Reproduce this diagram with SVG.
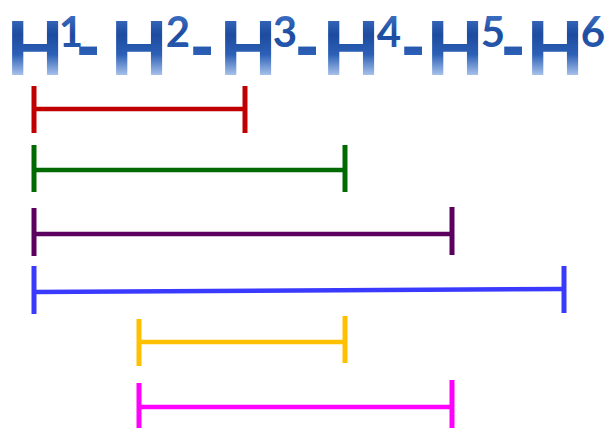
<svg xmlns="http://www.w3.org/2000/svg" width="614" height="428" viewBox="0 0 614 428">
  <defs>
    <!-- vertical blue gradient fill for the title letters -->
    <linearGradient id="titleFill" gradientUnits="userSpaceOnUse" x1="0" y1="16" x2="0" y2="78">
      <stop offset="0" stop-color="#3a6cc0"/>
      <stop offset="0.3" stop-color="#1c4b9f"/>
      <stop offset="0.62" stop-color="#2c60b6"/>
      <stop offset="1" stop-color="#b8cff2"/>
    </linearGradient>
  </defs>
  <style>
    .title { font-family: "Lato", "Liberation Sans", sans-serif; font-weight: 900; fill: url(#titleFill); text-anchor: middle; }
    .big { font-size: 74px; }
    .sup { font-size: 42px; font-weight: bold; }
    .dash { font-family: "Liberation Sans", sans-serif; font-size: 70px; font-weight: bold; }
    .bar { fill: none; stroke-width: 4.5; stroke-linecap: butt; }
    .tick { fill: none; stroke-width: 5; }
  </style>
  <rect width="614" height="428" fill="#ffffff"/>

  <g id="title">
    <text class="title">
      <tspan class="big" x="35" y="75">H</tspan><tspan class="sup" x="71" y="47">1</tspan><tspan class="dash" x="90" y="69">-</tspan>
      <tspan class="big" x="139" y="75">H</tspan><tspan class="sup" x="178" y="47">2</tspan><tspan class="dash" x="204" y="69">-</tspan>
      <tspan class="big" x="248" y="75">H</tspan><tspan class="sup" x="285" y="47">3</tspan><tspan class="dash" x="309" y="69">-</tspan>
      <tspan class="big" x="351" y="75">H</tspan><tspan class="sup" x="389" y="47">4</tspan><tspan class="dash" x="415" y="69">-</tspan>
      <tspan class="big" x="455" y="75">H</tspan><tspan class="sup" x="493" y="47">5</tspan><tspan class="dash" x="515" y="69">-</tspan>
      <tspan class="big" x="555" y="75">H</tspan><tspan class="sup" x="593" y="47">6</tspan>
    </text>
  </g>

  <g id="connectors">
    <!-- H1 to H3 -->
    <g id="span-red" stroke="#c00000">
      <line class="tick" x1="34" y1="86" x2="34" y2="133"/>
      <line class="tick" x1="245" y1="86" x2="245" y2="133"/>
      <line class="bar" x1="34" y1="109" x2="245" y2="109"/>
    </g>
    <!-- H1 to H4 -->
    <g id="span-green" stroke="#006a00">
      <line class="tick" x1="34" y1="145" x2="34" y2="192"/>
      <line class="tick" x1="345" y1="145" x2="345" y2="192"/>
      <line class="bar" x1="34" y1="170" x2="345" y2="170"/>
    </g>
    <!-- H1 to H5 -->
    <g id="span-purple" stroke="#5c0060">
      <line class="tick" x1="34" y1="208" x2="34" y2="256"/>
      <line class="tick" x1="452" y1="207" x2="452" y2="255"/>
      <line class="bar" x1="34" y1="234" x2="452" y2="234"/>
    </g>
    <!-- H1 to H6 -->
    <g id="span-blue" stroke="#3a3aff">
      <line class="tick" x1="34" y1="266" x2="34" y2="314"/>
      <line class="tick" x1="564" y1="266" x2="564" y2="313"/>
      <line class="bar" x1="34" y1="292" x2="564" y2="289"/>
    </g>
    <!-- H2 to H4 -->
    <g id="span-yellow" stroke="#ffc000">
      <line class="tick" x1="139" y1="319" x2="139" y2="366"/>
      <line class="tick" x1="345" y1="316" x2="345" y2="363"/>
      <line class="bar" x1="139" y1="342" x2="345" y2="342"/>
    </g>
    <!-- H2 to H5 -->
    <g id="span-magenta" stroke="#ff00ff">
      <line class="tick" x1="139" y1="383" x2="139" y2="428"/>
      <line class="tick" x1="452" y1="380" x2="452" y2="428"/>
      <line class="bar" x1="139" y1="407" x2="452" y2="407"/>
    </g>
  </g>
</svg>
